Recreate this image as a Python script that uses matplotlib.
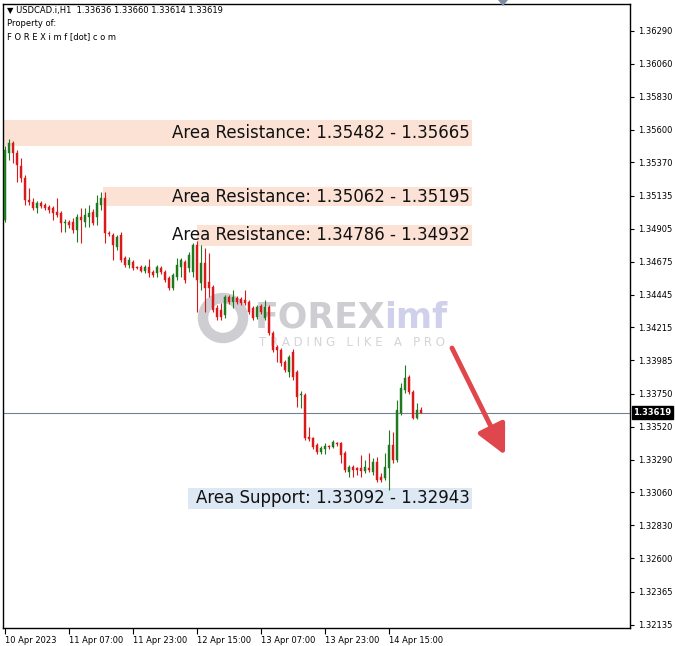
import matplotlib
matplotlib.use("Agg")
import matplotlib.pyplot as plt
from matplotlib.patches import Rectangle, Circle, Polygon
from matplotlib.transforms import IdentityTransform

# ---------------- data ----------------
opens = [1.34967, 1.35436, 1.35506, 1.35436, 1.35345, 1.35261, 1.35107, 1.35093, 1.35051, 1.35086,
         1.35072, 1.35058, 1.35051, 1.35023, 1.35016, 1.34946, 1.34953, 1.34953, 1.34897, 1.34988,
         1.34953, 1.34988, 1.35023, 1.34988, 1.35072, 1.35121, 1.34876, 1.34862, 1.34778, 1.34862,
         1.34701, 1.34652, 1.34673, 1.34638, 1.34638, 1.34610, 1.34638, 1.34603, 1.34596, 1.34631,
         1.34603, 1.34561, 1.34491, 1.34568, 1.34638, 1.34673, 1.34631, 1.34603, 1.34792, 1.34526,
         1.34666, 1.34533, 1.34498, 1.34351, 1.34337, 1.34302, 1.34428, 1.34393, 1.34421, 1.34414,
         1.34407, 1.34393, 1.34351, 1.34288, 1.34365, 1.34281, 1.34358, 1.34176, 1.34078, 1.34057,
         1.33973, 1.33903, 1.34043, 1.33903, 1.33742, 1.33742, 1.33448, 1.33441, 1.33392, 1.33343,
         1.33364, 1.33385, 1.33378, 1.33406, 1.33406, 1.33336, 1.33203, 1.33238, 1.33231, 1.33231,
         1.33210, 1.33231, 1.33203, 1.33273, 1.33168, 1.33161, 1.33231, 1.33392, 1.33287, 1.33616,
         1.33777, 1.33868, 1.33763, 1.33581, 1.33636]
highs = [1.35485, 1.35534, 1.35520, 1.35457, 1.35401, 1.35282, 1.35191, 1.35121, 1.35100, 1.35100,
         1.35086, 1.35072, 1.35065, 1.35121, 1.35030, 1.34974, 1.34967, 1.34981, 1.35009, 1.35051,
         1.35051, 1.35072, 1.35044, 1.35142, 1.35163, 1.35163, 1.34890, 1.34876, 1.34862, 1.34883,
         1.34715, 1.34708, 1.34687, 1.34645, 1.34652, 1.34652, 1.34694, 1.34617, 1.34652, 1.34645,
         1.34617, 1.34575, 1.34596, 1.34701, 1.34701, 1.34687, 1.34743, 1.34806, 1.34820, 1.34792,
         1.34771, 1.34736, 1.34512, 1.34372, 1.34386, 1.34442, 1.34442, 1.34477, 1.34435, 1.34428,
         1.34477, 1.34407, 1.34365, 1.34372, 1.34379, 1.34407, 1.34372, 1.34190, 1.34092, 1.34071,
         1.33987, 1.34022, 1.34064, 1.33917, 1.33770, 1.33756, 1.33518, 1.33448, 1.33406, 1.33385,
         1.33406, 1.33392, 1.33427, 1.33413, 1.33413, 1.33350, 1.33252, 1.33252, 1.33238, 1.33322,
         1.33287, 1.33336, 1.33301, 1.33308, 1.33196, 1.33336, 1.33497, 1.33483, 1.33707, 1.33826,
         1.33952, 1.33882, 1.33777, 1.33686, 1.33660]
lows = [1.34953, 1.35387, 1.35366, 1.35233, 1.35233, 1.35072, 1.35072, 1.35037, 1.35016, 1.35051,
        1.35037, 1.35016, 1.34967, 1.34988, 1.34883, 1.34883, 1.34911, 1.34876, 1.34813, 1.34806,
        1.34918, 1.34918, 1.34932, 1.34932, 1.35037, 1.34806, 1.34855, 1.34687, 1.34757, 1.34673,
        1.34638, 1.34631, 1.34617, 1.34624, 1.34603, 1.34596, 1.34568, 1.34568, 1.34568, 1.34589,
        1.34533, 1.34477, 1.34477, 1.34547, 1.34568, 1.34526, 1.34603, 1.34568, 1.34323, 1.34477,
        1.34323, 1.34428, 1.34323, 1.34267, 1.34267, 1.34281, 1.34379, 1.34351, 1.34379, 1.34372,
        1.34372, 1.34309, 1.34267, 1.34274, 1.34309, 1.34267, 1.34162, 1.34043, 1.33973, 1.33945,
        1.33903, 1.33868, 1.33847, 1.33658, 1.33651, 1.33427, 1.33420, 1.33364, 1.33329, 1.33329,
        1.33329, 1.33364, 1.33371, 1.33385, 1.33266, 1.33203, 1.33168, 1.33168, 1.33182, 1.33168,
        1.33196, 1.33203, 1.33182, 1.33133, 1.33133, 1.33147, 1.33077, 1.33266, 1.33273, 1.33602,
        1.33756, 1.33749, 1.33574, 1.33574, 1.33614]
closes = [1.35457, 1.35506, 1.35436, 1.35352, 1.35261, 1.35107, 1.35093, 1.35051, 1.35086, 1.35065,
          1.35051, 1.35037, 1.35016, 1.35002, 1.34946, 1.34953, 1.34932, 1.34897, 1.34988, 1.34967,
          1.35002, 1.35016, 1.34946, 1.35086, 1.35121, 1.34876, 1.34869, 1.34792, 1.34848, 1.34687,
          1.34652, 1.34687, 1.34631, 1.34631, 1.34610, 1.34638, 1.34596, 1.34582, 1.34638, 1.34603,
          1.34547, 1.34491, 1.34582, 1.34652, 1.34687, 1.34547, 1.34722, 1.34792, 1.34547, 1.34666,
          1.34491, 1.34491, 1.34337, 1.34288, 1.34288, 1.34428, 1.34393, 1.34428, 1.34393, 1.34386,
          1.34386, 1.34323, 1.34281, 1.34358, 1.34323, 1.34358, 1.34176, 1.34057, 1.34057, 1.33966,
          1.33917, 1.34008, 1.33868, 1.33728, 1.33749, 1.33441, 1.33434, 1.33378, 1.33343, 1.33371,
          1.33385, 1.33378, 1.33413, 1.33399, 1.33322, 1.33217, 1.33238, 1.33217, 1.33217, 1.33210,
          1.33238, 1.33217, 1.33273, 1.33147, 1.33147, 1.33238, 1.33392, 1.33287, 1.33637, 1.33791,
          1.33861, 1.33763, 1.33581, 1.33637, 1.33619]

xtick_bars = [0, 16, 32, 48, 64, 80, 96]
xtick_labels = ["10 Apr 2023", "11 Apr 07:00", "11 Apr 23:00", "12 Apr 15:00",
                "13 Apr 07:00", "13 Apr 23:00", "14 Apr 15:00"]
ytick_values = [1.36290, 1.36060, 1.35830, 1.35600, 1.35370, 1.35135, 1.34905, 1.34675,
                1.34445, 1.34215, 1.33985, 1.33750, 1.33520, 1.33290, 1.33060, 1.32830,
                1.32600, 1.32365, 1.32135]
ytick_labels = ["%.5f" % v for v in ytick_values]

zone_low = [1.35482, 1.35062, 1.34786, 1.32943]
zone_high = [1.35665, 1.35195, 1.34932, 1.33092]
zone_start = [-0.5, 24.6, 48.0, 45.75]
zone_end = 116.75
zone_labels = ["Area Resistance: 1.35482 - 1.35665",
               "Area Resistance: 1.35062 - 1.35195",
               "Area Resistance: 1.34786 - 1.34932",
               "Area Support: 1.33092 - 1.32943"]
zone_colors = ["#fbe2d5", "#fbe2d5", "#fbe2d5", "#dde8f5"]

symbol = "USDCAD.i,H1"
current_price = 1.33619

# ---------------- figure ----------------
W, H = 675, 646
fig = plt.figure(figsize=(W / 100, H / 100), dpi=100)
fig.patch.set_facecolor("white")
ax = fig.add_axes([3 / W, 1 - 628 / H, 627 / W, 624 / H])
ax.set_xlim(-0.5, 156.25)
ax.set_ylim(1.32111, 1.36479)

UP = "#1f7a1f"
DN = "#d91a1a"

# zones
for lo, hi, st, col in zip(zone_low, zone_high, zone_start, zone_colors):
    ax.add_patch(Rectangle((st, lo), zone_end - st, hi - lo, facecolor=col,
                           edgecolor="none", zorder=1))

# watermark (inside the axes, behind the candles)
wm_gray = "#cdcdd2"
ax.add_patch(Circle((223, H - 318), 20, transform=IdentityTransform(), facecolor="none",
                    edgecolor=wm_gray, linewidth=7.5, zorder=1.5))
ax.text(255 / W, 1 - 318 / H, "FOREX", transform=fig.transFigure, fontsize=25,
        fontweight="bold", color=wm_gray, va="center", ha="left", zorder=1.5)
ax.text(384 / W, 1 - 318 / H, "imf", transform=fig.transFigure, fontsize=25,
        fontweight="bold", color="#d0d0ec", va="center", ha="left", zorder=1.5)
ax.text(259 / W, 1 - 343 / H, "T R A D I N G   L I K E   A   P R O", transform=fig.transFigure,
        fontsize=8.5, color="#d4d4d9", va="center", ha="left", zorder=1.5)

# candles
for i, (o, h, l, c) in enumerate(zip(opens, highs, lows, closes)):
    col = UP if c >= o else DN
    ax.vlines(i, l, h, color=col, linewidth=0.8, zorder=3)
    bot = min(o, c)
    hgt = max(abs(c - o), 0.00002)
    ax.add_patch(Rectangle((i - 0.37, bot), 0.74, hgt, facecolor=col,
                           edgecolor=col, linewidth=0.3, zorder=4))

# zone labels on top
for lo, hi, lab in zip(zone_low, zone_high, zone_labels):
    ax.text(116.3, (lo + hi) / 2, lab, fontsize=12, ha="right", va="center",
            color="#111111", zorder=6)

# current price line
ax.axhline(current_price, color="#6f8193", linewidth=0.8, zorder=2)

# axes styling
for s in ax.spines.values():
    s.set_color("black")
    s.set_linewidth(1.0)
ax.yaxis.tick_right()
ax.set_yticks(ytick_values)
ax.set_yticklabels(ytick_labels)
ax.set_xticks(xtick_bars)
ax.set_xticklabels(xtick_labels)
ax.tick_params(axis="y", direction="out", length=3, width=0.8, labelsize=6.0, pad=3,
               colors="black")
ax.tick_params(axis="x", direction="out", length=4, width=0.8, labelsize=6.0, pad=2,
               colors="black")
for t in ax.get_xticklabels():
    t.set_ha("left")

# price label box
ax.annotate("%.5f" % current_price, xy=(1.0, current_price), xycoords=("axes fraction", "data"),
            xytext=(2.5, 0), textcoords="offset points", fontsize=6.0, fontweight="bold",
            color="white", va="center", ha="left",
            bbox=dict(boxstyle="square,pad=0.2", facecolor="black", edgecolor="black"),
            annotation_clip=False, zorder=10)

# header texts
fig.text(7 / W, 1 - 11 / H, "\u25BC " + symbol + "  1.33636 1.33660 1.33614 1.33619",
         fontsize=6.0, va="center", ha="left", color="black")
fig.text(7 / W, 1 - 24 / H, "Property of:", fontsize=6.0, va="center", ha="left")
fig.text(7 / W, 1 - 37 / H, "F O R E X i m f [dot] c o m", fontsize=6.0, va="center", ha="left")

# shift marker at top
fig.patches.append(Polygon([[498 / W, 1.0], [508 / W, 1.0], [503 / W, 1 - 6 / H]],
                           closed=True, transform=fig.transFigure, facecolor="#7d8ea3",
                           edgecolor="none"))

# red arrow
ax.annotate("", xy=(505, H - 455), xytext=(452, H - 348), xycoords="figure pixels",
            textcoords="figure pixels",
            arrowprops=dict(arrowstyle="-|>,head_length=0.9,head_width=0.45", lw=3.5,
                            color="#e0474c", mutation_scale=20, shrinkA=0, shrinkB=0),
            annotation_clip=False, zorder=8)

fig.savefig("out.png", dpi=100, facecolor="white")
